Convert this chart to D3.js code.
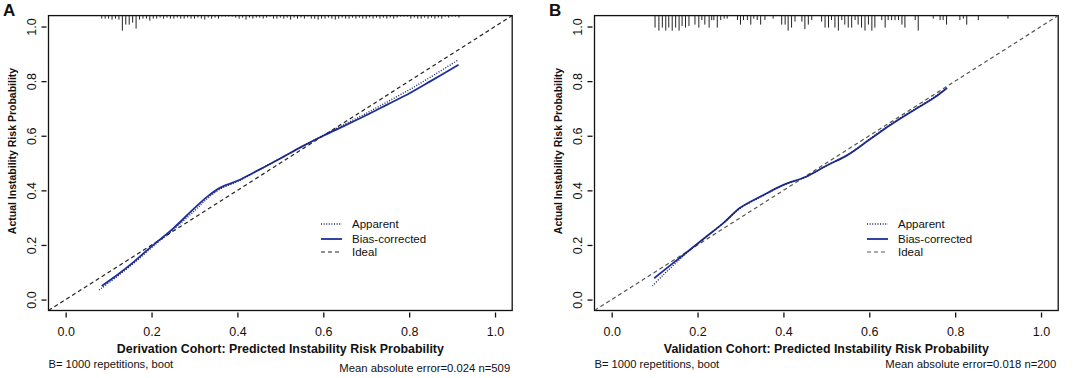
<!DOCTYPE html>
<html>
<head>
<meta charset="utf-8">
<script src="https://cdn.jsdelivr.net/npm/d3@7"></script>
<style>
  body { margin: 0; background: #fff; }
  svg { display: block; font-family: "Liberation Sans", Arial, sans-serif; }
</style>
</head>
<body>
<div id="graph"></div>
<script>
var W = 1084, H = 378;

// ticks shared by both panels
const tickValues = [0, 0.2, 0.4, 0.6, 0.8, 1.0];
const legendLabels = ["Apparent", "Bias-corrected", "Ideal"];

// panel A: derivation cohort
const biasA = [[0.084,0.05],[0.12,0.09],[0.16,0.14],[0.20,0.195],[0.25,0.26],[0.30,0.335],[0.33,0.377],[0.36,0.41],[0.40,0.435],[0.45,0.475],[0.50,0.517],[0.55,0.56],[0.60,0.60],[0.65,0.637],[0.70,0.675],[0.75,0.715],[0.80,0.755],[0.85,0.80],[0.915,0.86]];
const apparentA = [[0.078,0.035],[0.12,0.085],[0.16,0.135],[0.20,0.19],[0.25,0.255],[0.30,0.325],[0.33,0.37],[0.36,0.405],[0.40,0.432],[0.45,0.475],[0.50,0.517],[0.55,0.56],[0.60,0.602],[0.65,0.642],[0.70,0.682],[0.75,0.725],[0.80,0.768],[0.85,0.815],[0.915,0.878]];
const rugAx = [0.084,0.092,0.100,0.108,0.116,0.124,0.132,0.140,0.148,0.156,0.164,0.172,0.180,0.188,0.196,0.204,0.212,0.220,0.228,0.236,0.244,0.252,0.260,0.268,0.276,0.284,0.292,0.300,0.308,0.316,0.324,0.332,0.340,0.348,0.356,0.364,0.372,0.380,0.388,0.396,0.404,0.412,0.420,0.428,0.436,0.444,0.452,0.460,0.468,0.476,0.484,0.492,0.500,0.508,0.516,0.524,0.532,0.540,0.548,0.556,0.564,0.572,0.580,0.588,0.596,0.604,0.612,0.620,0.628,0.636,0.644,0.652,0.660,0.668,0.676,0.684,0.692,0.700,0.708,0.716,0.724,0.732,0.740,0.748,0.756,0.764,0.772,0.780,0.788,0.796,0.804,0.812,0.820,0.828,0.836,0.844,0.852,0.860,0.868,0.876,0.884,0.892,0.900,0.908,0.916];
const rugAn = [3,3,3,4,3,4,15,9,9,7,13,4,3,3,5,3,3,2,3,2,3,3,2,3,3,2,3,3,2,3,4,2,3,2,3,1,1,1,1,2,3,2,4,2,3,2,2,3,2,1,3,3,2,3,2,4,2,3,2,3,1,3,3,4,3,3,2,3,4,3,2,3,3,2,3,2,3,3,2,3,2,3,2,3,2,3,2,1,1,1,3,2,3,3,2,3,2,3,2,3,1,2,1,1,2];

// panel B: validation cohort
const biasB = [[0.099,0.078],[0.14,0.13],[0.18,0.18],[0.22,0.23],[0.26,0.28],[0.30,0.337],[0.35,0.38],[0.40,0.42],[0.45,0.448],[0.50,0.49],[0.55,0.53],[0.60,0.585],[0.65,0.64],[0.70,0.69],[0.75,0.738],[0.781,0.775]];
const apparentB = [[0.095,0.05],[0.12,0.09],[0.15,0.135],[0.18,0.178],[0.22,0.23],[0.26,0.28],[0.30,0.335],[0.35,0.378],[0.40,0.42],[0.45,0.448],[0.50,0.49],[0.55,0.53],[0.60,0.587],[0.65,0.643],[0.70,0.692],[0.75,0.74],[0.781,0.775]];
const rugBx = [0.101,0.110,0.118,0.126,0.133,0.141,0.149,0.157,0.164,0.172,0.180,0.194,0.203,0.210,0.217,0.227,0.233,0.238,0.246,0.254,0.262,0.269,0.293,0.300,0.307,0.316,0.324,0.331,0.339,0.347,0.357,0.376,0.396,0.404,0.411,0.419,0.427,0.443,0.450,0.458,0.466,0.489,0.497,0.505,0.512,0.520,0.528,0.536,0.543,0.551,0.559,0.567,0.574,0.582,0.590,0.598,0.606,0.613,0.629,0.637,0.644,0.652,0.660,0.668,0.676,0.683,0.707,0.714,0.749,0.765,0.772,0.780,0.811,0.819,0.827,0.854,0.923];
const rugBn = [8,10,8,10,8,10,8,10,7,8,7,6,8,3,6,8,3,3,8,3,2,2,3,6,3,3,6,2,3,6,3,2,6,6,10,8,4,4,9,6,3,4,8,8,3,8,10,3,6,8,8,3,6,8,10,6,10,8,3,8,3,3,3,3,6,8,3,10,2,3,3,6,3,2,6,3,2];

const panels = [
  { tag: "A", x0: 0, bias: biasA, apparent: apparentA, rugX: rugAx, rugN: rugAn, rugMax: 15,
    xTitle: "Derivation Cohort: Predicted Instability Risk Probability",
    err: "Mean absolute error=0.024 n=509", errY: 368, idealColor: "#222", legX: 321 },
  { tag: "B", x0: 546, bias: biasB, apparent: apparentB, rugX: rugBx, rugN: rugBn, rugMax: 10,
    xTitle: "Validation Cohort: Predicted Instability Risk Probability",
    err: "Mean absolute error=0.018 n=200", errY: 364, idealColor: "#555", legX: 321 }
];

const svg = d3.select("#graph").append("svg")
    .attr("width", W)
    .attr("height", H);

panels.forEach(function(p, i) {
  const g = svg.append("g").attr("transform", `translate(${p.x0},0)`);

  const x = d3.scaleLinear().domain([-0.04, 1.04]).range([48.5, 512.2]);
  const y = d3.scaleLinear().domain([-0.04, 1.04]).range([310.5, 15.6]);

  const clipId = "clip" + i;
  g.append("clipPath").attr("id", clipId)
    .append("rect")
      .attr("x", x(-0.04)).attr("y", y(1.04))
      .attr("width", x(1.04) - x(-0.04)).attr("height", y(-0.04) - y(1.04));

  // box
  g.append("rect")
      .attr("x", x(-0.04)).attr("y", y(1.04))
      .attr("width", x(1.04) - x(-0.04)).attr("height", y(-0.04) - y(1.04))
      .attr("fill", "none").attr("stroke", "#111").attr("stroke-width", 1.3);

  // x axis ticks (below box, small gap)
  const xAxis = d3.axisBottom(x).tickValues(tickValues).tickFormat(d3.format(".1f")).tickSize(5).tickPadding(10);
  const gx = g.append("g").attr("transform", `translate(0,${y(-0.04) + 2})`).call(xAxis);
  gx.select(".domain").remove();
  gx.selectAll("line").attr("stroke", "#111").attr("stroke-width", 1.3);
  gx.selectAll("text").attr("font-size", 12.5).attr("fill", "#111");

  // y axis ticks
  const yAxis = d3.axisLeft(y).tickValues(tickValues).tickFormat(d3.format(".1f")).tickSize(5).tickPadding(0);
  const gy = g.append("g").attr("transform", `translate(${x(-0.04) - 2},0)`).call(yAxis);
  gy.select(".domain").remove();
  gy.selectAll("line").attr("stroke", "#111").attr("stroke-width", 1.3);
  gy.selectAll("text")
      .attr("font-size", 12.5).attr("fill", "#111")
      .attr("x", null).attr("dy", null)
      .attr("text-anchor", "middle")
      .attr("transform", "translate(-11,0) rotate(-90)");

  // rug at top
  const len = d3.scaleLinear().domain([0, p.rugMax]).range([0, 15]);
  g.append("g").selectAll("line")
    .data(p.rugX.map((v, k) => [v, p.rugN[k]]))
    .join("line")
      .attr("x1", d => x(d[0])).attr("x2", d => x(d[0]))
      .attr("y1", y(1.04)).attr("y2", d => y(1.04) + len(d[1]))
      .attr("stroke", "#222").attr("stroke-width", 1);

  const plot = g.append("g").attr("clip-path", `url(#${clipId})`);

  // ideal line
  plot.append("line")
      .attr("x1", x(-0.04)).attr("y1", y(-0.04))
      .attr("x2", x(1.04)).attr("y2", y(1.04))
      .attr("stroke", p.idealColor).attr("stroke-width", 1.2)
      .attr("stroke-dasharray", "4,3");

  const line = d3.line().x(d => x(d[0])).y(d => y(d[1])).curve(d3.curveCatmullRom);

  plot.append("path").datum(p.bias)
      .attr("d", line).attr("fill", "none")
      .attr("stroke", "#1c2f9e").attr("stroke-width", 1.8);

  plot.append("path").datum(p.apparent)
      .attr("d", line).attr("fill", "none")
      .attr("stroke", "#1a1f5c").attr("stroke-width", 1.4)
      .attr("stroke-dasharray", "1,1.6");

  // legend
  const leg = g.append("g").attr("transform", `translate(${p.legX},0)`);
  const legY = [224, 239, 252];
  const styles = [
    { c: "#1a1f5c", w: 1.4, dash: "1,1.6" },
    { c: "#1c2f9e", w: 1.8, dash: null },
    { c: p.idealColor, w: 1.2, dash: "4,3" }
  ];
  legendLabels.forEach(function(lab, k) {
    leg.append("line")
        .attr("x1", 0).attr("x2", 21).attr("y1", legY[k]).attr("y2", legY[k])
        .attr("stroke", styles[k].c).attr("stroke-width", styles[k].w)
        .attr("stroke-dasharray", styles[k].dash);
    leg.append("text")
        .attr("x", 31).attr("y", legY[k]).attr("dy", "0.35em")
        .attr("font-size", 11.5).attr("fill", "#111").text(lab);
  });

  // titles
  g.append("text")
      .attr("x", (x(-0.04) + x(1.04)) / 2).attr("y", 353)
      .attr("text-anchor", "middle").attr("font-weight", "bold").attr("font-size", 12.4)
      .attr("fill", "#111").text(p.xTitle);

  g.append("text")
      .attr("transform", "translate(16,151) rotate(-90)")
      .attr("text-anchor", "middle").attr("font-weight", "bold").attr("font-size", 10.5)
      .attr("fill", "#111").text("Actual Instability Risk Probability");

  g.append("text")
      .attr("x", 3).attr("y", 16)
      .attr("font-weight", "bold").attr("font-size", 17)
      .attr("fill", "#111").text(p.tag);

  g.append("text")
      .attr("x", x(-0.04)).attr("y", 368)
      .attr("font-size", 11.2).attr("fill", "#111").text("B= 1000 repetitions, boot");

  g.append("text")
      .attr("x", x(1.04) - 2).attr("y", p.errY + 4)
      .attr("text-anchor", "end").attr("font-size", 11.3)
      .attr("fill", "#111").text(p.err);
});
</script>
</body>
</html>
